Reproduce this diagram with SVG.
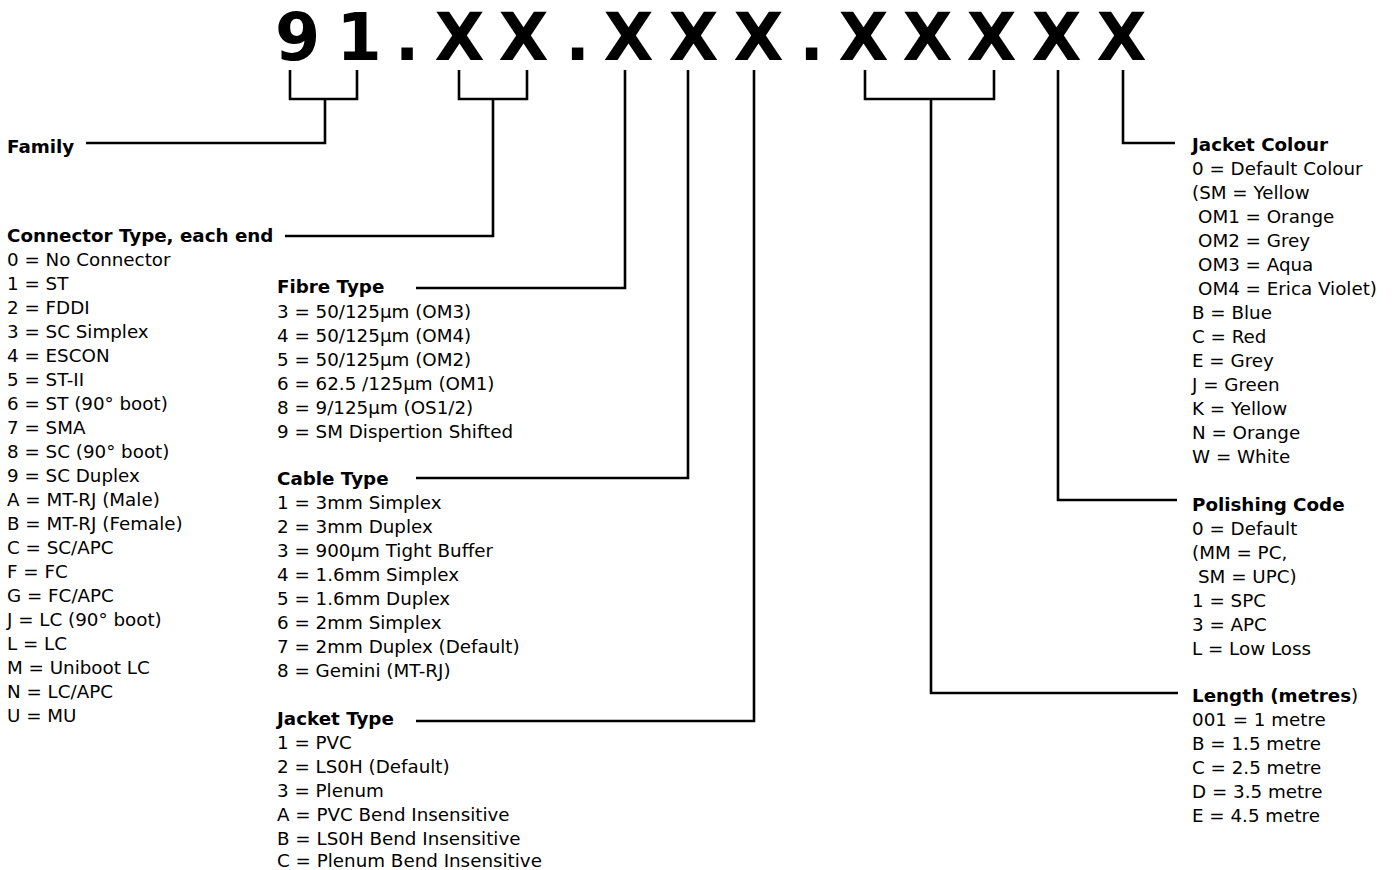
<svg xmlns="http://www.w3.org/2000/svg" width="1393" height="870" viewBox="0 0 1393 870">
<style>
text{font-family:"DejaVu Sans","Liberation Sans",sans-serif;fill:#000;font-size:18.3px}
.h{font-weight:bold}
.title{font-size:65px;font-weight:bold;text-anchor:middle}
.ln{fill:none;stroke:#000;stroke-width:2.6;stroke-linejoin:miter;stroke-linecap:butt}
</style>
<rect width="1393" height="870" fill="#fff"/>
<g id="code">
<text class="title" x="297.5 359 407 459.5 523.5 577.5 628.5 693.5 758.5 811.5 863.5 927.5 991.5 1056.5 1121.5" y="60">91.XX.XXX.XXXXX</text>
</g>
<g id="connectors">
<path class="ln" d="M290,70 V99 H357 V70 M325,99 V143 H86"/>
<path class="ln" d="M459,70 V99 H527 V70 M493,99 V236 H285"/>
<path class="ln" d="M625,70 V288 H416"/>
<path class="ln" d="M688,70 V478 H416"/>
<path class="ln" d="M754,70 V721 H416"/>
<path class="ln" d="M865,70 V99 H994 V70 M931,99 V693 H1178"/>
<path class="ln" d="M1058,70 V500 H1177"/>
<path class="ln" d="M1123,70 V143 H1175"/>
</g>
<g id="family">
<text class="h" x="7" y="153">Family</text>
</g>
<g id="connector-type">
<text class="h" x="7" y="242">Connector Type, each end</text>
<text x="7" y="266">0 = No Connector</text>
<text x="7" y="290">1 = ST</text>
<text x="7" y="314">2 = FDDI</text>
<text x="7" y="338">3 = SC Simplex</text>
<text x="7" y="362">4 = ESCON</text>
<text x="7" y="386">5 = ST-II</text>
<text x="7" y="410">6 = ST (90° boot)</text>
<text x="7" y="434">7 = SMA</text>
<text x="7" y="458">8 = SC (90° boot)</text>
<text x="7" y="482">9 = SC Duplex</text>
<text x="7" y="506">A = MT-RJ (Male)</text>
<text x="7" y="530">B = MT-RJ (Female)</text>
<text x="7" y="554">C = SC/APC</text>
<text x="7" y="578">F = FC</text>
<text x="7" y="602">G = FC/APC</text>
<text x="7" y="626">J = LC (90° boot)</text>
<text x="7" y="650">L = LC</text>
<text x="7" y="674">M = Uniboot LC</text>
<text x="7" y="698">N = LC/APC</text>
<text x="7" y="722">U = MU</text>
</g>
<g id="fibre-type">
<text class="h" x="277" y="293">Fibre Type</text>
<text x="277" y="318">3 = 50/125µm (OM3)</text>
<text x="277" y="342">4 = 50/125µm (OM4)</text>
<text x="277" y="366">5 = 50/125µm (OM2)</text>
<text x="277" y="390">6 = 62.5 /125µm (OM1)</text>
<text x="277" y="414">8 = 9/125µm (OS1/2)</text>
<text x="277" y="438">9 = SM Dispertion Shifted</text>
</g>
<g id="cable-type">
<text class="h" x="277" y="485">Cable Type</text>
<text x="277" y="509">1 = 3mm Simplex</text>
<text x="277" y="533">2 = 3mm Duplex</text>
<text x="277" y="557">3 = 900µm Tight Buffer</text>
<text x="277" y="581">4 = 1.6mm Simplex</text>
<text x="277" y="605">5 = 1.6mm Duplex</text>
<text x="277" y="629">6 = 2mm Simplex</text>
<text x="277" y="653">7 = 2mm Duplex (Default)</text>
<text x="277" y="677">8 = Gemini (MT-RJ)</text>
</g>
<g id="jacket-type">
<text class="h" x="277" y="725">Jacket Type</text>
<text x="277" y="749">1 = PVC</text>
<text x="277" y="773">2 = LS0H (Default)</text>
<text x="277" y="797">3 = Plenum</text>
<text x="277" y="821">A = PVC Bend Insensitive</text>
<text x="277" y="845">B = LS0H Bend Insensitive</text>
<text x="277" y="867">C = Plenum Bend Insensitive</text>
</g>
<g id="jacket-colour">
<text class="h" x="1192" y="151">Jacket Colour</text>
<text x="1192" y="175">0 = Default Colour</text>
<text x="1192" y="199">(SM = Yellow</text>
<text x="1198" y="223">OM1 = Orange</text>
<text x="1198" y="247">OM2 = Grey</text>
<text x="1198" y="271">OM3 = Aqua</text>
<text x="1198" y="295">OM4 = Erica Violet)</text>
<text x="1192" y="319">B = Blue</text>
<text x="1192" y="343">C = Red</text>
<text x="1192" y="367">E = Grey</text>
<text x="1192" y="391">J = Green</text>
<text x="1192" y="415">K = Yellow</text>
<text x="1192" y="439">N = Orange</text>
<text x="1192" y="463">W = White</text>
</g>
<g id="polishing-code">
<text class="h" x="1192" y="511">Polishing Code</text>
<text x="1192" y="535">0 = Default</text>
<text x="1192" y="559">(MM = PC,</text>
<text x="1198" y="583">SM = UPC)</text>
<text x="1192" y="607">1 = SPC</text>
<text x="1192" y="631">3 = APC</text>
<text x="1192" y="655">L = Low Loss</text>
</g>
<g id="length">
<text x="1192" y="702"><tspan class="h">Length (metres</tspan>)</text>
<text x="1192" y="726">001 = 1 metre</text>
<text x="1192" y="750">B = 1.5 metre</text>
<text x="1192" y="774">C = 2.5 metre</text>
<text x="1192" y="798">D = 3.5 metre</text>
<text x="1192" y="822">E = 4.5 metre</text>
</g>
</svg>
